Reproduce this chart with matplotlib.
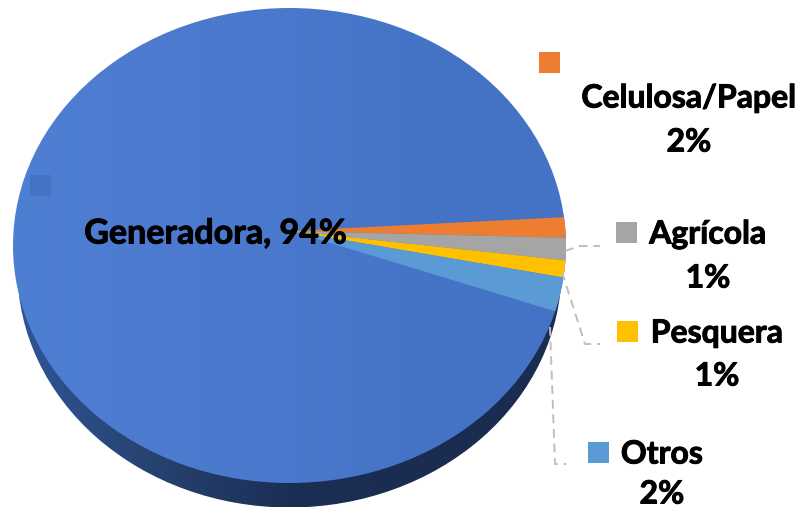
import matplotlib
matplotlib.use("Agg")
import matplotlib.pyplot as plt
from matplotlib.colors import LinearSegmentedColormap
from matplotlib.patches import Ellipse, Rectangle
import matplotlib.patheffects as pe
import numpy as np

plt.rcParams['font.family'] = ['Lato', 'DejaVu Sans']

# slice shares, the printed labels are rounded
sectores = ["Celulosa/Papel", "Agrícola", "Pesquera", "Otros", "Generadora"]
valores = [1.2, 1.3, 1.0, 2.0, 94.5]
etiquetas = ["2%", "1%", "1%", "2%", "94%"]
colores = ["#ED7D31", "#A5A5A5", "#FFC000", "#5B9BD5", "none"]

W, H = 802, 507
fig = plt.figure(figsize=(W / 100, H / 100), dpi=100)
ax = fig.add_axes([0, 0, 1, 1])

# top face and the darker side, axes are in picture pixels
cx, cy, rx, ry = 289.5, 245.5, 276.5, 237.5
cy_lado, rx_lado = 270, 272
grad = np.linspace(0, 1, 256).reshape(1, -1)

lado_cmap = LinearSegmentedColormap.from_list("lado", ["#2F5597", "#26426F", "#1B2F55", "#1A2C50", "#1A2C50"])
lado = ax.imshow(grad, extent=(cx - rx_lado, cx + rx_lado, cy_lado + ry, cy_lado - ry), cmap=lado_cmap, aspect='auto', zorder=1)
lado.set_clip_path(Ellipse((cx, cy_lado), 2 * rx_lado, 2 * ry, transform=ax.transData))

cara_cmap = LinearSegmentedColormap.from_list("cara", ["#4F7FD3", "#4C7BCF", "#4A78CC", "#4573C6", "#4472C4"])
cara = ax.imshow(grad, extent=(cx - rx, cx + rx, cy + ry, cy - ry), cmap=cara_cmap, aspect='auto', zorder=2)
cara.set_clip_path(Ellipse((cx, cy), 2 * rx, 2 * ry, transform=ax.transData))

# wedges meet off centre because of the 3d tilt, so clip a big pie to the face
wedges, _ = ax.pie(valores, colors=colores, center=(291, 231), radius=1000,
                   startangle=-2.9, counterclock=True, frame=True)
borde = Ellipse((cx, cy), 2 * rx, 2 * ry, transform=ax.transData)
for w in wedges:
    w.set_zorder(3)
    w.set_clip_on(True)
    w.set_clip_path(borde)

# leader lines
gris = "#BFBFBF"
guias = [
    ([565, 580, 600], [251, 246, 246]),
    ([562, 585, 600], [272, 344, 344]),
    ([550, 555, 566], [327, 464, 464]),
]
for gx, gy in guias:
    ax.plot(gx, gy, color=gris, lw=1.4, ls=(0, (4.5, 3)), zorder=4)

# colour keys
claves = [(539, 52, "#ED7D31"), (616, 222, "#A5A5A5"), (617, 321, "#FFC000"),
          (588, 442, "#5B9BD5"), (30, 175, "#4472C4")]
for kx, ky, c in claves:
    ax.add_patch(Rectangle((kx, ky), 20.5, 20.5, facecolor=c, edgecolor='none', zorder=5))

# labels, a thin stroke brings Lato up to the weight of the original
fs = 23
grueso = [pe.withStroke(linewidth=0.7, foreground='black')]
posiciones = [(689, 98, 142), (708, 234, 278), (717, 333, 376), (662, 454, 494)]
for nombre, pct, (tx, y1, y2) in zip(sectores[:4], etiquetas[:4], posiciones):
    ax.text(tx, y1, nombre, ha='center', va='center', fontsize=fs, fontweight='bold', color='black', zorder=6, path_effects=grueso)
    ax.text(tx, y2, pct, ha='center', va='center', fontsize=fs, fontweight='bold', color='black', zorder=6, path_effects=grueso)
ax.text(215.5, 233.5, sectores[4] + ", " + etiquetas[4], ha='center', va='center',
        fontsize=24.5, fontweight='bold', color='black', zorder=6, path_effects=grueso)

ax.set_xlim(0, W)
ax.set_ylim(H, 0)
ax.axis('off')
fig.savefig("out.png", dpi=100, facecolor='white')
